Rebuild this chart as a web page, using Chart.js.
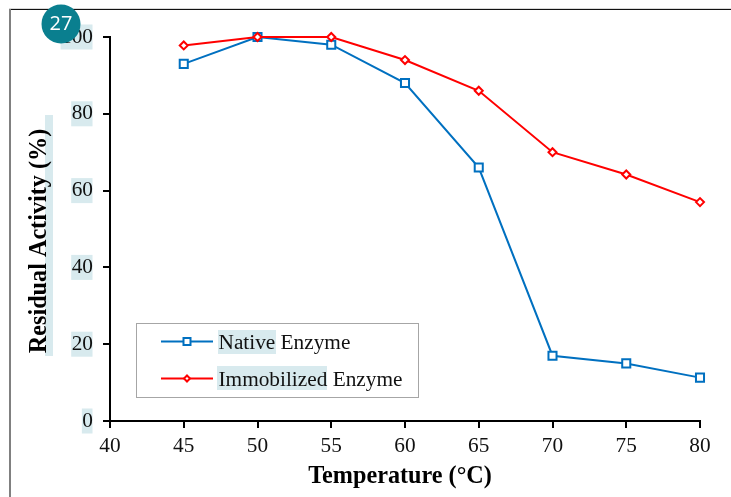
<!DOCTYPE html>
<html>
<head>
<meta charset="utf-8">
<style>
  html, body { margin: 0; padding: 0; background: #fff; }
  #wrap { position: relative; width: 731px; height: 497px; }
</style>
<script src="https://cdn.jsdelivr.net/npm/chart.js@4"></script>
</head>
<body>
<div id="wrap"><canvas id="chart" width="731" height="497"></canvas></div>
<script>
const temperatures = [45, 50, 55, 60, 65, 70, 75, 80];
const nativeActivity = [93, 100, 98, 88, 66, 17, 15, 11.3];
const immobilizedActivity = [97.8, 100, 100, 94, 86, 70, 64.2, 57];
const xTitle = 'Temperature (°C)';
const yTitle = 'Residual Activity (%)';
const badgeText = '27';

const SERIF = '"Liberation Serif", "Times New Roman", serif';
const HIGHLIGHT = '#d8eaee';
const BLUE = '#0070c0';
const RED = '#ff0000';

function toPoints(values) {
  return values.map((v, i) => ({ x: temperatures[i], y: v }));
}

// frame, highlights behind the text, axis titles, legend box and badge
const decorations = {
  id: 'decorations',
  beforeDraw(chart) {
    const ctx = chart.ctx;
    const yScale = chart.scales.y;
    ctx.save();
    ctx.fillStyle = '#fff';
    ctx.fillRect(0, 0, chart.width, chart.height);

    // page frame
    ctx.fillStyle = '#d9d9d9';
    ctx.fillRect(9, 8, 722, 1);
    ctx.fillStyle = '#111';
    ctx.fillRect(10, 9, 721, 1);
    ctx.fillStyle = '#808080';
    ctx.fillRect(9, 9, 2, 488);

    // highlights behind y tick labels
    ctx.fillStyle = HIGHLIGHT;
    ctx.font = '21.3px ' + SERIF;
    yScale.ticks.forEach(t => {
      const w = ctx.measureText(String(t.value)).width;
      ctx.fillRect(92.5 - w, yScale.getPixelForValue(t.value) - 12.5, w, 25);
    });
    // highlight behind y title
    ctx.fillRect(45, 115, 8, 241);
    // highlights behind legend words
    ctx.fillRect(218, 330, 58, 24);
    ctx.fillRect(217, 366, 110, 24);
    ctx.restore();
  },
  afterDraw(chart) {
    const ctx = chart.ctx;
    ctx.save();

    // axis titles
    ctx.fillStyle = '#000';
    ctx.font = 'bold 24.2px ' + SERIF;
    ctx.textAlign = 'center';
    ctx.textBaseline = 'middle';
    ctx.fillText(xTitle, 400, 477);
    ctx.save();
    ctx.translate(40, 241);
    ctx.rotate(-Math.PI / 2);
    ctx.fillText(yTitle, 0, 0);
    ctx.restore();

    // legend
    ctx.strokeStyle = '#a6a6a6';
    ctx.lineWidth = 1;
    ctx.strokeRect(136.5, 323.5, 282, 74);
    ctx.font = '21.3px ' + SERIF;
    ctx.textAlign = 'left';
    ctx.fillStyle = '#111';
    const rows = [341.5, 378.5];
    chart.data.datasets.forEach((ds, i) => {
      const y = rows[i];
      ctx.strokeStyle = ds.borderColor;
      ctx.lineWidth = 2;
      ctx.beginPath();
      ctx.moveTo(161, y);
      ctx.lineTo(213, y);
      ctx.stroke();
      ctx.fillStyle = '#fff';
      ctx.beginPath();
      if (i === 0) {
        ctx.rect(183.5, y - 3.5, 7, 7);
      } else {
        ctx.moveTo(187, y - 3);
        ctx.lineTo(190, y);
        ctx.lineTo(187, y + 3);
        ctx.lineTo(184, y);
        ctx.closePath();
      }
      ctx.fill();
      ctx.stroke();
      ctx.fillStyle = '#111';
      ctx.fillText(ds.label, 218.5, y + 1.5);
    });

    // number badge
    ctx.fillStyle = '#0a7f8f';
    ctx.beginPath();
    ctx.arc(61, 24, 19.5, 0, Math.PI * 2);
    ctx.fill();
    ctx.fillStyle = '#fff';
    ctx.font = '20px "Open Sans", sans-serif';
    ctx.textAlign = 'center';
    ctx.fillText(badgeText, 61, 24);
    ctx.restore();
  }
};

new Chart(document.getElementById('chart').getContext('2d'), {
  type: 'line',
  data: {
    datasets: [
      {
        label: 'Native Enzyme',
        data: toPoints(nativeActivity),
        borderColor: BLUE,
        backgroundColor: '#fff',
        borderWidth: 2,
        pointStyle: 'rect',
        pointRadius: 5.7,
        pointBorderWidth: 2,
        tension: 0,
        clip: false,
        order: 2
      },
      {
        label: 'Immobilized Enzyme',
        data: toPoints(immobilizedActivity),
        borderColor: RED,
        backgroundColor: '#fff',
        borderWidth: 2,
        pointStyle: 'rectRot',
        pointRadius: 4,
        pointBorderWidth: 2,
        tension: 0,
        clip: false,
        order: 1
      }
    ]
  },
  options: {
    responsive: false,
    animation: false,
    layout: { padding: { left: 0, top: 37, right: 31, bottom: 0 } },
    plugins: { legend: { display: false }, tooltip: { enabled: false } },
    scales: {
      x: {
        type: 'linear',
        min: 40,
        max: 80,
        afterFit(scale) { scale.height = 76; },
        border: { color: '#000', width: 2 },
        grid: { drawOnChartArea: false, color: '#000', tickLength: 7, lineWidth: 2 },
        ticks: {
          stepSize: 5,
          maxRotation: 0,
          color: '#111',
          padding: 6,
          font: { family: SERIF, size: 21.3 }
        }
      },
      y: {
        min: 0,
        max: 100,
        afterFit(scale) { scale.width = 110; },
        border: { color: '#000', width: 2 },
        grid: { drawOnChartArea: false, color: '#000', tickLength: 7, lineWidth: 2 },
        ticks: {
          stepSize: 20,
          color: '#111',
          padding: 10,
          font: { family: SERIF, size: 21.3 }
        }
      }
    }
  },
  plugins: [decorations]
});
</script>
</body>
</html>
